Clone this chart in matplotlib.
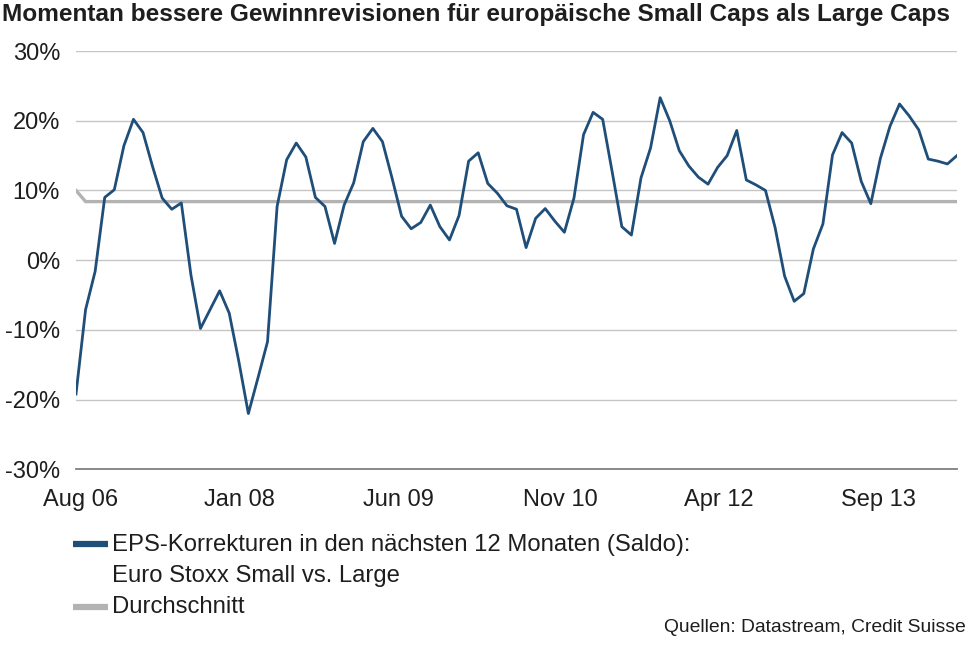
import matplotlib
matplotlib.use("Agg")
import matplotlib.pyplot as plt
from matplotlib.lines import Line2D
import numpy as np

plt.rcParams['font.family'] = ['Liberation Sans', 'DejaVu Sans']

# monthly values, Aug 06 .. Apr 14 (in %)
eps_small_vs_large = [
    -19.2, -7.1, -1.6, 9.0, 10.1, 16.4, 20.2, 18.3, 13.4, 8.9,
    7.3, 8.2, -2.1, -9.8, -7.1, -4.4, -7.6, -14.5, -22.0, -16.9,
    -11.7, 7.7, 14.4, 16.8, 14.8, 9.0, 7.7, 2.4, 7.9, 11.1,
    17.0, 18.9, 17.0, 11.8, 6.3, 4.5, 5.4, 7.9, 4.8, 2.9,
    6.4, 14.2, 15.4, 11.0, 9.6, 7.8, 7.3, 1.8, 6.0, 7.4,
    5.6, 4.0, 8.9, 18.0, 21.2, 20.2, 12.6, 4.8, 3.6, 11.8,
    16.1, 23.3, 20.0, 15.7, 13.5, 11.9, 10.9, 13.3, 15.0, 18.6,
    11.5, 10.8, 10.0, 4.7, -2.3, -5.9, -4.8, 1.6, 5.2, 15.1,
    18.3, 16.8, 11.3, 8.1, 14.6, 19.2, 22.4, 20.7, 18.7, 14.5,
    14.2, 13.8, 15.0,
]
durchschnitt = [10.0] + [8.4] * (len(eps_small_vs_large) - 1)

tick_labels = ['Aug 06', 'Jan 08', 'Jun 09', 'Nov 10', 'Apr 12', 'Sep 13']
tick_pos = [0.5, 17.1, 33.7, 50.6, 67.1, 83.8]
y_ticks = [-30, -20, -10, 0, 10, 20, 30]

blue = '#1f4e79'
grey = '#b3b3b3'
txt = '#1e1e1e'

fig = plt.figure(figsize=(9.68, 6.64), dpi=100)
ax = fig.add_axes([76/968, 1 - 469.3/664, (957-76)/968, (469.3-51)/664])

x = np.arange(len(eps_small_vs_large))
ax.plot(x, durchschnitt, color=grey, lw=2.4, solid_joinstyle='miter')
ax.plot(x, eps_small_vs_large, color=blue, lw=2.0)

ax.set_xlim(0, len(x) - 1)
ax.set_ylim(-30, 30)
ax.set_yticks(y_ticks)
ax.set_yticklabels([f'{v}%' for v in y_ticks])
ax.set_xticks(tick_pos)
ax.set_xticklabels(tick_labels)
ax.yaxis.grid(True, color='#c6c6c6', lw=1)
ax.set_axisbelow(True)
for s in ['top', 'right', 'left']:
    ax.spines[s].set_visible(False)
ax.spines['bottom'].set_color('#808080')
ax.spines['bottom'].set_linewidth(1.3)
ax.tick_params(axis='both', length=0, labelsize=17, labelcolor=txt)
ax.tick_params(axis='y', pad=11.5)
ax.tick_params(axis='x', pad=14)

fig.text(0.002, 1 - 15/664, 'Momentan bessere Gewinnrevisionen für europäische Small Caps als Large Caps',
         fontsize=17.6, fontweight='bold', color=txt, va='center', ha='left')

# legend
fig.add_artist(Line2D([73/968, 108/968], [1 - 544/664] * 2, color=blue, lw=4.5, solid_capstyle='butt'))
fig.add_artist(Line2D([73/968, 108/968], [1 - 607/664] * 2, color=grey, lw=4.5, solid_capstyle='butt'))
fig.text(112/968, 1 - 545/664, 'EPS-Korrekturen in den nächsten 12 Monaten (Saldo):',
         fontsize=17.2, color=txt, va='center')
fig.text(112/968, 1 - 576/664, 'Euro Stoxx Small vs. Large', fontsize=17.2, color=txt, va='center')
fig.text(112/968, 1 - 607/664, 'Durchschnitt', fontsize=17.2, color=txt, va='center')
fig.text(966/968, 1 - 627/664, 'Quellen: Datastream, Credit Suisse', fontsize=13.9,
         color=txt, va='center', ha='right')

fig.savefig('out.png', dpi=100)
